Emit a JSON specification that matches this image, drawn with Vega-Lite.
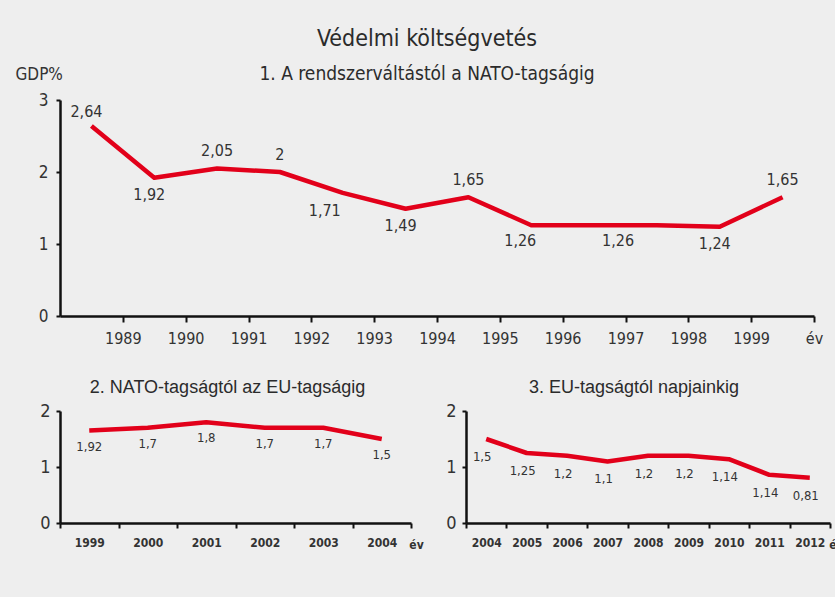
{
  "$schema": "https://vega.github.io/schema/vega-lite/v6.json",
  "background": "#eeeeee",
  "padding": {"left": 15, "top": 28, "right": 0, "bottom": 50},
  "datasets": {
    "p1": [
      {"year": 1988, "gdp": 2.64, "label": "2,64"},
      {"year": 1989, "gdp": 1.92, "label": "1,92"},
      {"year": 1990, "gdp": 2.05, "label": "2,05"},
      {"year": 1991, "gdp": 2.0, "label": "2"},
      {"year": 1992, "gdp": 1.71, "label": "1,71"},
      {"year": 1993, "gdp": 1.49, "label": "1,49"},
      {"year": 1994, "gdp": 1.65, "label": "1,65"},
      {"year": 1995, "gdp": 1.26, "label": "1,26"},
      {"year": 1996, "gdp": 1.26, "label": "1,26"},
      {"year": 1997, "gdp": 1.26, "label": ""},
      {"year": 1998, "gdp": 1.24, "label": "1,24"},
      {"year": 1999, "gdp": 1.65, "label": "1,65"}
    ],
    "p2": [
      {"year": 1999, "gdp": 1.65, "label": "1,92"},
      {"year": 2000, "gdp": 1.7, "label": "1,7"},
      {"year": 2001, "gdp": 1.8, "label": "1,8"},
      {"year": 2002, "gdp": 1.7, "label": "1,7"},
      {"year": 2003, "gdp": 1.7, "label": "1,7"},
      {"year": 2004, "gdp": 1.5, "label": "1,5"}
    ],
    "p3": [
      {"year": 2004, "gdp": 1.5, "label": "1,5"},
      {"year": 2005, "gdp": 1.25, "label": "1,25"},
      {"year": 2006, "gdp": 1.2, "label": "1,2"},
      {"year": 2007, "gdp": 1.1, "label": "1,1"},
      {"year": 2008, "gdp": 1.2, "label": "1,2"},
      {"year": 2009, "gdp": 1.2, "label": "1,2"},
      {"year": 2010, "gdp": 1.14, "label": "1,14"},
      {"year": 2011, "gdp": 0.86, "label": "1,14"},
      {"year": 2012, "gdp": 0.81, "label": "0,81"}
    ]
  },
  "config": {
    "view": {"stroke": null},
    "font": "'Liberation Sans Narrow', 'DejaVu Sans Condensed', sans-serif",
    "axis": {
      "grid": false,
      "domainColor": "#111111",
      "domainWidth": 2.5,
      "tickColor": "#111111",
      "tickWidth": 2,
      "labelColor": "#333333",
      "labelFont": "'Liberation Sans Narrow', 'DejaVu Sans Condensed', sans-serif",
      "titleFont": "'Liberation Sans Narrow', 'DejaVu Sans Condensed', sans-serif",
      "titleColor": "#333333",
      "titleFontWeight": "normal",
      "labelOverlap": false
    },
    "text": {"color": "#333333"}
  },
  "bounds": "flush",
  "spacing": 95,
  "vconcat": [
    {
      "width": 754,
      "height": 216,
      "title": {
        "text": "Védelmi költségvetés",
        "subtitle": "1. A rendszerváltástól a NATO-tagságig",
        "anchor": "middle",
        "dx": -10,
        "font": "'Liberation Sans Narrow', 'DejaVu Sans Condensed', sans-serif",
        "subtitleFont": "'Liberation Sans Narrow', 'DejaVu Sans Condensed', sans-serif",
        "fontSize": 23,
        "fontWeight": "normal",
        "subtitleFontSize": 19,
        "subtitlePadding": 14,
        "color": "#2b2b2b",
        "subtitleColor": "#2b2b2b",
        "offset": -19
      },
      "data": {"name": "p1"},
      "encoding": {
        "x": {
          "field": "year",
          "type": "quantitative",
          "scale": {"domain": [1987.5, 1999.5], "nice": false, "zero": false},
          "axis": {
            "values": [1988.5, 1989.5, 1990.5, 1991.5, 1992.5, 1993.5, 1994.5, 1995.5, 1996.5, 1997.5, 1998.5, 1999.5],
            "labelExpr": "datum.value == 1999.5 ? 'év' : '' + (datum.value + 0.5)",
            "title": null,
            "tickSize": 6,
            "labelFontSize": 16,
            "labelPadding": 8,
            "labelFlush": false,
            "labelOverlap": false
          }
        },
        "y": {
          "field": "gdp",
          "type": "quantitative",
          "scale": {"domain": [0, 3], "nice": false},
          "axis": {
            "values": [0, 1, 2, 3],
            "title": "GDP%",
            "titleAngle": 0,
            "titleX": -45,
            "titleY": -26,
            "titleAlign": "left",
            "titleBaseline": "middle",
            "titleFontSize": 17,
            "tickSize": 4,
            "labelFontSize": 17,
            "labelPadding": 8,
            "labelOverlap": false
          }
        }
      },
      "layer": [
        {"mark": {"type": "line", "color": "#e2001a", "strokeWidth": 4.5, "strokeJoin": "round"}},
        {
          "transform": [{"filter": {"field": "year", "oneOf": [1990, 1991, 1994, 1999]}}],
          "mark": {"type": "text", "dy": -17, "fontSize": 16, "baseline": "middle"},
          "encoding": {"text": {"field": "label"}}
        },
        {
          "transform": [{"filter": {"field": "year", "oneOf": [1988]}}],
          "mark": {"type": "text", "dx": -5, "dy": -14, "fontSize": 16, "baseline": "middle"},
          "encoding": {"text": {"field": "label"}}
        },
        {
          "transform": [{"filter": {"field": "year", "oneOf": [1989, 1993, 1998]}}],
          "mark": {"type": "text", "dx": -5, "dy": 17, "fontSize": 16, "baseline": "middle"},
          "encoding": {"text": {"field": "label"}}
        },
        {
          "transform": [{"filter": {"field": "year", "oneOf": [1992]}}],
          "mark": {"type": "text", "dx": -18, "dy": 18, "fontSize": 16, "baseline": "middle"},
          "encoding": {"text": {"field": "label"}}
        },
        {
          "transform": [{"filter": {"field": "year", "oneOf": [1995]}}],
          "mark": {"type": "text", "dx": -11, "dy": 16, "fontSize": 16, "baseline": "middle"},
          "encoding": {"text": {"field": "label"}}
        },
        {
          "transform": [{"filter": {"field": "year", "oneOf": [1996]}}],
          "mark": {"type": "text", "dx": 24, "dy": 16, "fontSize": 16, "baseline": "middle"},
          "encoding": {"text": {"field": "label"}}
        }
      ]
    },
    {
      "bounds": "flush",
      "spacing": 55,
      "hconcat": [
        {
          "width": 351,
          "height": 112,
          "title": {
            "text": "2. NATO-tagságtól az EU-tagságig",
            "anchor": "middle",
            "dx": -8,
            "font": "'Liberation Sans', Arial, sans-serif",
            "fontSize": 18,
            "fontWeight": "normal",
            "color": "#2b2b2b",
            "offset": 5
          },
          "data": {"name": "p2"},
          "encoding": {
            "x": {
              "field": "year",
              "type": "ordinal",
              "scale": {"type": "band", "paddingInner": 0, "paddingOuter": 0},
              "axis": {
                "tickBand": "extent",
                "labelAngle": 0,
                "tickSize": 5,
                "labelFontSize": 12,
                "labelFontWeight": "bold",
                "labelPadding": 9,
                "title": "év",
                "titleFontSize": 12,
                "titleFontWeight": "bold",
                "titleX": 356,
                "titleY": 21,
                "titleAlign": "center",
                "titleBaseline": "middle",
                "titleColor": "#333333"
              }
            },
            "y": {
              "field": "gdp",
              "type": "quantitative",
              "scale": {"domain": [0, 2], "nice": false},
              "axis": {
                "values": [0, 1, 2],
                "labelExpr": "'' + datum.value",
                "title": null,
                "tickSize": 4,
                "labelFontSize": 18,
                "labelPadding": 6,
                "labelOverlap": false
              }
            }
          },
          "layer": [
            {"mark": {"type": "line", "color": "#e2001a", "strokeWidth": 4.5, "strokeJoin": "round"}},
            {
              "mark": {"type": "text", "dy": 16, "fontSize": 13, "baseline": "middle"},
              "encoding": {"text": {"field": "label"}}
            }
          ]
        },
        {
          "width": 364,
          "height": 112,
          "title": {
            "text": "3. EU-tagságtól napjainkig",
            "anchor": "middle",
            "dx": -14,
            "font": "'Liberation Sans', Arial, sans-serif",
            "fontSize": 18,
            "fontWeight": "normal",
            "color": "#2b2b2b",
            "offset": 5
          },
          "data": {"name": "p3"},
          "encoding": {
            "x": {
              "field": "year",
              "type": "ordinal",
              "scale": {"type": "band", "paddingInner": 0, "paddingOuter": 0},
              "axis": {
                "tickBand": "extent",
                "labelAngle": 0,
                "tickSize": 5,
                "labelFontSize": 12,
                "labelFontWeight": "bold",
                "labelPadding": 9,
                "title": "év",
                "titleFontSize": 12,
                "titleFontWeight": "bold",
                "titleX": 370,
                "titleY": 21,
                "titleAlign": "center",
                "titleBaseline": "middle",
                "titleColor": "#333333"
              }
            },
            "y": {
              "field": "gdp",
              "type": "quantitative",
              "scale": {"domain": [0, 2], "nice": false},
              "axis": {
                "values": [0, 1, 2],
                "labelExpr": "'' + datum.value",
                "title": null,
                "tickSize": 4,
                "labelFontSize": 18,
                "labelPadding": 6,
                "labelOverlap": false
              }
            }
          },
          "layer": [
            {"mark": {"type": "line", "color": "#e2001a", "strokeWidth": 4.5, "strokeJoin": "round"}},
            {
              "mark": {"type": "text", "dx": -4, "dy": 18, "fontSize": 13, "baseline": "middle"},
              "encoding": {"text": {"field": "label"}}
            }
          ]
        }
      ]
    }
  ]
}
